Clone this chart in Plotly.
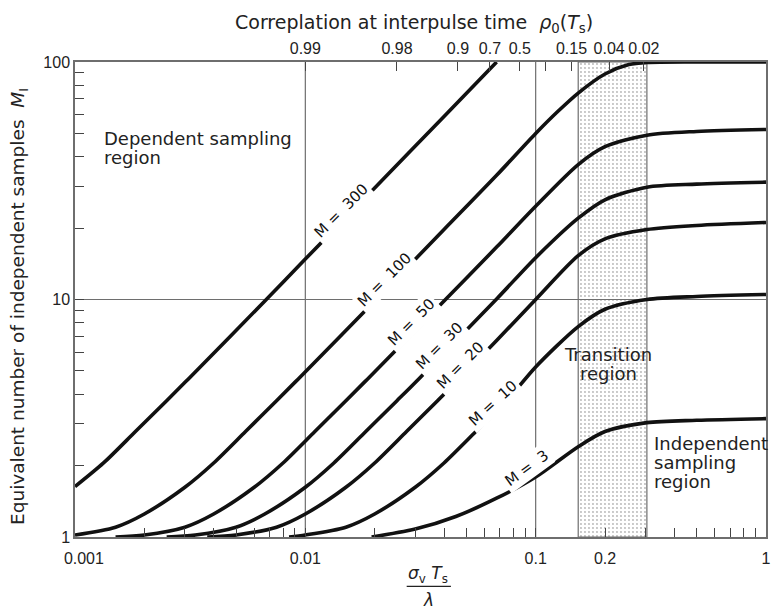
import numpy as np
import plotly.graph_objects as go

FONT = "DejaVu Sans"
TICK_FONT = "Liberation Sans"
INK = "#111111"
GRID = "#6e6e6e"

# ---- normalised spectrum width  sigma_v*Ts/lambda  ->  equivalent independent samples M_I ----
m3_x = [0.0194, 0.03, 0.045, 0.068, 0.1, 0.153, 0.2, 0.304, 0.5, 1.0]
m3_y = [1.0, 1.08, 1.22, 1.46, 1.79, 2.4, 2.78, 3.03, 3.1, 3.15]

m10_x = [0.0085, 0.01, 0.015, 0.02, 0.03, 0.04, 0.055, 0.075, 0.1, 0.153, 0.2, 0.304, 0.5, 1.0]
m10_y = [1.0, 1.02, 1.1, 1.25, 1.62, 2.05, 2.78, 3.75, 5.2, 7.69, 9.1, 10.0, 10.3, 10.5]

m20_x = [0.00375, 0.005, 0.0075, 0.01, 0.015, 0.02, 0.0275, 0.0375, 0.0465, 0.068, 0.1, 0.153, 0.2, 0.304, 0.5, 1.0]
m20_y = [1.0, 1.02, 1.1, 1.25, 1.62, 2.05, 2.78, 3.75, 4.62, 6.75, 10.0, 15.3, 18.0, 19.7, 20.5, 21.1]

m30_x = [0.0025, 0.00333, 0.005, 0.00667, 0.01, 0.0133, 0.0183, 0.025, 0.031, 0.068, 0.1, 0.153, 0.2, 0.304, 0.5, 1.0]
m30_y = [1.0, 1.02, 1.1, 1.25, 1.62, 2.05, 2.78, 3.75, 4.62, 10.1, 15.0, 22.0, 26.3, 29.7, 30.6, 31.2]

m50_x = [0.0015, 0.002, 0.003, 0.004, 0.006, 0.008, 0.011, 0.015, 0.0186, 0.0406, 0.068, 0.1, 0.153, 0.2, 0.304, 0.5, 1.0]
m50_y = [1.0, 1.02, 1.1, 1.25, 1.62, 2.05, 2.78, 3.75, 4.62, 10.0, 16.7, 24.7, 37.0, 44.0, 49.2, 51.0, 52.0]

m100_x = [0.001, 0.0015, 0.002, 0.003, 0.004, 0.0055, 0.0075, 0.0093, 0.0203, 0.04, 0.068, 0.1, 0.125, 0.153, 0.2, 0.254, 0.304, 0.5, 1.0]
m100_y = [1.02, 1.1, 1.25, 1.62, 2.05, 2.78, 3.75, 4.62, 10.0, 19.7, 33.5, 50.0, 62.0, 74.0, 89.0, 97.5, 99.5, 100.0, 100.0]

m300_x = [0.001, 0.00133, 0.00183, 0.0025, 0.0031, 0.00677, 0.01, 0.02, 0.04, 0.0677]
m300_y = [1.63, 2.05, 2.78, 3.75, 4.62, 10.0, 14.8, 29.5, 59.0, 100.0]

curve_m = [3, 10, 20, 30, 50, 100, 300]
curve_x = [m3_x, m10_x, m20_x, m30_x, m50_x, m100_x, m300_x]
curve_y = [m3_y, m10_y, m20_y, m30_y, m50_y, m100_y, m300_y]

# where each "M = ..." label sits along its curve, and its rotation
label_x = [0.088, 0.0627, 0.0455, 0.0366, 0.0278, 0.0211, 0.0137]
label_angle = [-36, -42, -45, -45, -45, -45, -45]

# shaded transition band and reference lines
transition_x = [0.153, 0.304]
grid_x = [0.01, 0.1]
grid_y = [10]

# bottom axis ticks (the first label is nudged right with no-break spaces)
bottom_tick_vals = [0.001, 0.002, 0.003, 0.004, 0.005, 0.006, 0.007, 0.008, 0.009,
                    0.01, 0.02, 0.03, 0.04, 0.05, 0.06, 0.07, 0.08, 0.09,
                    0.1, 0.2, 0.3, 0.4, 0.5, 0.6, 0.7, 0.8, 0.9, 1.0]
bottom_tick_text = ["\u00a0\u00a0\u00a0\u00a00.001", "", "", "", "", "", "", "", "",
                    "0.01", "", "", "", "", "", "", "", "",
                    "0.1", "0.2", "", "", "", "", "", "", "", "1"]

# left axis ticks
left_tick_vals = [1, 2, 3, 4, 5, 6, 7, 8, 9, 10, 20, 30, 40, 50, 60, 70, 80, 90, 100]
left_tick_text = ["1", "", "", "", "", "", "", "", "", "10", "", "", "", "", "", "", "", "", "100"]

# top axis: correlation at the interpulse time
rho_tick_vals = [0.01, 0.0250, 0.0460, 0.0633, 0.0853, 0.1105, 0.143, 0.2085, 0.295]
rho_tick_text = ["0.99", "0.98", "0.9", "0.7", "0.5", "", "0.15", "0.04", "0.02"]

# region captions
dep_lines = ["Dependent sampling", "region"]
trans_lines = ["Transition", "region"]
indep_lines = ["Independent", "sampling", "region"]

fig = go.Figure()

# transition band with a stippled fill
bx0, bx1 = transition_x
fig.add_trace(go.Scatter(
    x=[bx0, bx1, bx1, bx0, bx0], y=[1, 1, 100, 100, 1],
    mode="lines", fill="toself", fillcolor="white",
    fillpattern=dict(shape=".", size=4, solidity=0.18, fgcolor="#707070", bgcolor="white"),
    line=dict(color=GRID, width=1.2), hoverinfo="skip", showlegend=False))

# reference lines
for gx in grid_x:
    fig.add_trace(go.Scatter(x=[gx, gx], y=[1, 100], mode="lines",
                             line=dict(color=GRID, width=1.2), hoverinfo="skip", showlegend=False))
for gy in grid_y:
    fig.add_trace(go.Scatter(x=[0.001, 1.0], y=[gy, gy], mode="lines",
                             line=dict(color=GRID, width=1.2), hoverinfo="skip", showlegend=False))

# M_I curves
for m, xs, ys in zip(curve_m, curve_x, curve_y):
    fig.add_trace(go.Scatter(x=xs, y=ys, mode="lines",
                             line=dict(color=INK, width=3.6, shape="spline", smoothing=0.8),
                             name=f"M = {m}", hoverinfo="skip", showlegend=False))

# invisible trace that carries the top (correlation) axis
fig.add_trace(go.Scatter(x=[0.001, 1.0], y=[1, 1], xaxis="x2", mode="markers",
                         marker=dict(size=0, opacity=0), hoverinfo="skip", showlegend=False))

# curve labels placed on their curves
for m, xs, ys, lx, ang in zip(curve_m, curve_x, curve_y, label_x, label_angle):
    ly = np.interp(np.log10(lx), np.log10(xs), np.log10(ys))
    fig.add_annotation(x=np.log10(lx), y=ly, xref="x", yref="y",
                       xanchor="center", yanchor="middle",
                       text=f"M =  {m}", showarrow=False, textangle=ang,
                       font=dict(family=FONT, size=15, color=INK),
                       bgcolor="white", borderpad=2, xshift=4, yshift=16)


def caption(lines, lx, ly, anchor, step=0.08):
    for i, t in enumerate(lines):
        fig.add_annotation(x=lx, y=ly - i * step, xref="x", yref="y", text=t,
                           showarrow=False, xanchor=anchor, yanchor="middle",
                           font=dict(family=FONT, size=18, color="#222"))


caption(dep_lines, -2.884, 1.68, "left")
caption(trans_lines, -0.685, 0.77, "center")
caption(indep_lines, -0.496, 0.392, "left")

# axis titles
fig.add_annotation(xref="paper", yref="paper", x=-0.082, y=0.485, textangle=-90,
                   xanchor="center", yanchor="middle",
                   text="Equivalent number of independent samples  <i>M</i><sub>I</sub>",
                   showarrow=False, font=dict(family=FONT, size=18.5, color="#222"))
fig.add_annotation(xref="paper", yref="paper", x=0.49, y=1.08,
                   xanchor="center", yanchor="middle",
                   text="Correplation at interpulse time  <i>ρ</i><sub>0</sub>(<i>T</i><sub>s</sub>)",
                   showarrow=False, font=dict(family=FONT, size=19, color="#222"))
fig.add_annotation(xref="paper", yref="paper", x=0.511, y=-0.078,
                   xanchor="center", yanchor="middle",
                   text="<i>σ</i><sub>v</sub> <i>T</i><sub>s</sub>",
                   showarrow=False, font=dict(family=FONT, size=17, color="#222"))
fig.add_shape(type="line", xref="paper", yref="paper", x0=0.480, x1=0.544,
              y0=-0.104, y1=-0.104, line=dict(color="#222", width=1.3))
fig.add_annotation(xref="paper", yref="paper", x=0.511, y=-0.132,
                   xanchor="center", yanchor="middle",
                   text="<i>λ</i>", showarrow=False,
                   font=dict(family=FONT, size=17, color="#222"))

axis_common = dict(type="log", showgrid=False, zeroline=False, showline=True,
                   linecolor=GRID, linewidth=1.5, ticks="inside", ticklen=9,
                   tickcolor="#444444", tickwidth=1.4, tickangle=0, layer="above traces",
                   tickfont=dict(family=TICK_FONT, size=16, color="#222"))

fig.update_layout(
    width=775, height=614,
    margin=dict(l=75, r=4, t=62, b=77),
    paper_bgcolor="white", plot_bgcolor="white",
    showlegend=False,
    xaxis=dict(range=[-3, 0], tickmode="array", tickvals=bottom_tick_vals,
               ticktext=bottom_tick_text, ticklabelstandoff=6, **axis_common),
    xaxis2=dict(range=[-3, 0], overlaying="x", side="top", anchor="y",
                tickmode="array", tickvals=rho_tick_vals, ticktext=rho_tick_text,
                **axis_common),
    yaxis=dict(range=[0, 2], tickmode="array", tickvals=left_tick_vals,
               ticktext=left_tick_text, mirror=True, **axis_common),
)

fig.write_html("out.html")
